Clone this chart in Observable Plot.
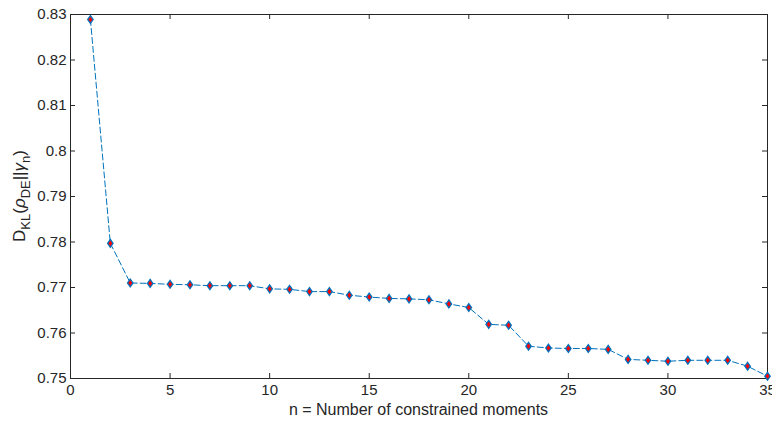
<!DOCTYPE html>
<html>
<head>
<meta charset="utf-8">
<script src="https://cdn.jsdelivr.net/npm/d3@7"></script>
<script src="https://cdn.jsdelivr.net/npm/@observablehq/plot@0.6"></script>
<style>
  html, body { margin: 0; padding: 0; background: #fff; }
  #chart { width: 772px; height: 421px; overflow: hidden; }
</style>
</head>
<body>
<div id="chart"></div>
<script>
const nValues = [1,2,3,4,5,6,7,8,9,10,11,12,13,14,15,16,17,18,19,20,21,22,23,24,25,26,27,28,29,30,31,32,33,34,35];
const klValues = [0.8289,0.7797,0.7710,0.7709,0.7707,0.7706,0.7704,0.7704,0.7704,0.7697,0.7696,0.7691,0.7691,0.7683,0.7679,0.7676,0.7675,0.7673,0.7664,0.7656,0.7619,0.7617,0.7571,0.7567,0.7566,0.7566,0.7564,0.7542,0.7540,0.7538,0.7540,0.7540,0.7540,0.7527,0.7505];
const xTicks = [0,5,10,15,20,25,30,35];
const yTicks = [0.75,0.76,0.77,0.78,0.79,0.80,0.81,0.82,0.83];
const xLabel = "n = Number of constrained moments";

const data = nValues.map((n, i) => ({n, kl: klValues[i]}));

const W = 772, H = 421, mL = 70, mR = 5, mT = 14, mB = 43;
const plotW = W - mL - mR, plotH = H - mT - mB, tk = 5;

const diamond = {
  draw(ctx, size) {
    const r = Math.sqrt(size / Math.PI);
    ctx.moveTo(0, -r * 1.15);
    ctx.lineTo(r * 0.8, 0);
    ctx.lineTo(0, r * 1.15);
    ctx.lineTo(-r * 0.8, 0);
    ctx.closePath();
  }
};

const axisColor = "#262626";
const font = "'Liberation Sans', Arial, Helvetica, sans-serif";

const chart = Plot.plot({
  width: W, height: H,
  marginLeft: mL, marginRight: mR, marginTop: mT, marginBottom: mB,
  style: {fontFamily: font, fontSize: "15px", color: axisColor, background: "#fff"},
  x: {domain: [0, 35]},
  y: {domain: [0.75, 0.83]},
  marks: [
    Plot.frame({stroke: axisColor, strokeWidth: 1}),
    // inward ticks
    Plot.tickY(yTicks, {y: d => d, stroke: axisColor, insetRight: plotW - tk}),
    Plot.tickY(yTicks, {y: d => d, stroke: axisColor, insetLeft: plotW - tk}),
    Plot.tickX(xTicks, {x: d => d, stroke: axisColor, insetTop: plotH - tk}),
    Plot.tickX(xTicks, {x: d => d, stroke: axisColor, insetBottom: plotH - tk}),
    Plot.axisY({ticks: yTicks, tickSize: 0, tickPadding: 4, tickFormat: d => String(+d.toFixed(2)), label: null, fontSize: 15}),
    Plot.axisX({ticks: xTicks, tickSize: 0, tickPadding: 6, tickFormat: d => String(d), label: null, fontSize: 15}),
    Plot.line(data, {x: "n", y: "kl", stroke: "#0072BD", strokeWidth: 1, strokeDasharray: "6,3"}),
    Plot.dot(data, {x: "n", y: "kl", symbol: diamond, r: 3.4, fill: "#FF0000", stroke: "#0072BD", strokeWidth: 1.3})
  ]
});

document.getElementById("chart").appendChild(chart);

const svg = d3.select(chart);
// x-axis label
svg.append("text")
  .attr("x", mL + plotW / 2)
  .attr("y", H - 6)
  .attr("text-anchor", "middle")
  .attr("fill", axisColor)
  .style("font-family", font)
  .style("font-size", "16px")
  .text(xLabel);

// y-axis label with sub-scripts
const yl = svg.append("text")
  .attr("transform", `translate(25,${mT + plotH / 2}) rotate(-90)`)
  .attr("text-anchor", "middle")
  .attr("fill", axisColor)
  .style("font-family", font)
  .style("font-size", "17px");
const parts = [["D", 0], ["KL", 1], ["(", 0], ["ρ", 0, true], ["DE", 1], ["||", 0], ["γ", 0, true], ["n", 1], [")", 0]];
let prevSub = 0;
for (const [t, sub, ital] of parts) {
  const ts = yl.append("tspan").text(t);
  if (sub !== prevSub) ts.attr("dy", sub ? 5 : -5);
  if (sub) ts.style("font-size", "13px");
  if (ital) ts.style("font-style", "italic");
  prevSub = sub;
}
</script>
</body>
</html>
